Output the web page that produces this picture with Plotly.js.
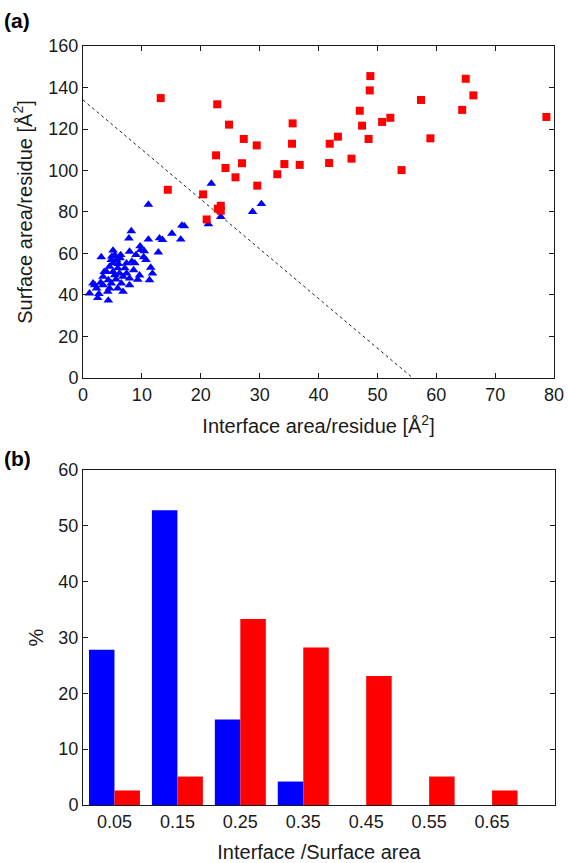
<!DOCTYPE html>
<html>
<head>
<meta charset="utf-8">
<script src="https://cdn.plot.ly/plotly-3.0.1.min.js"></script>
<style>
  html, body { margin: 0; padding: 0; background: #fff; }
  #chart { width: 568px; height: 863px; }
</style>
</head>
<body>
<div id="chart"></div>
<script>
// Panel (a): per-residue interface area vs surface area
// Red squares: group with large interface area
const redX = [13.2, 14.4, 22.8, 24.8, 27.3, 29.5, 35.6, 35.5, 22.6, 24.2,
              27.0, 25.9, 29.6, 34.2, 33.0, 36.8, 20.4, 23.4, 23.4, 22.9,
              21.0, 41.9, 43.3, 41.8, 45.6, 47.0, 48.8, 48.7, 47.4, 48.5,
              50.8, 52.2, 54.1, 57.4, 59.0, 65.0, 66.3, 64.4, 78.7];
const redY = [134.9, 90.7, 131.9, 122.1, 115.2, 112.1, 122.7, 112.9, 107.3, 101.2,
              103.5, 96.7, 92.7, 103.1, 98.2, 102.7, 88.5, 83.0, 80.6, 81.6,
              76.4, 112.9, 116.3, 103.6, 105.7, 128.8, 145.5, 138.6, 121.6, 115.2,
              123.4, 125.4, 100.2, 134.0, 115.5, 144.2, 136.2, 129.2, 125.8];

// Blue triangles: group with small interface area
const blueX = [8.2, 7.8, 9.7, 9.8, 3.1, 5.1, 5.4, 6.4, 7.9, 9.0,
               10.4, 10.3, 10.7, 8.3, 7.4, 8.8, 4.8, 5.7, 5.1, 4.5,
               5.9, 7.1, 11.5, 4.0, 5.1, 6.2, 7.4, 11.8, 3.4, 5.4,
               6.8, 7.9, 9.3, 11.3, 1.7, 3.4, 4.8, 6.5, 7.9, 2.3,
               4.5, 5.9, 1.1, 2.7, 4.2, 6.8, 2.5, 4.3, 2.0, 3.6,
               4.3, 6.0, 5.6, 8.6, 3.0, 6.3, 9.6, 4.9,
               11.1, 16.8, 17.2, 15.1, 16.6, 13.0, 13.5, 11.1, 12.8, 21.8,
               23.4, 21.3, 28.8, 30.3];
const blueY = [70.8, 67.3, 63.5, 61.7, 58.3, 61.5, 59.3, 59.3, 60.9, 59.3,
               61.2, 58.3, 56.9, 56.1, 55.3, 55.3, 56.9, 56.9, 55.3, 53.7,
               52.9, 52.9, 53.2, 51.2, 51.2, 50.4, 50.4, 50.4, 48.8, 49.6,
               48.8, 48.0, 47.4, 47.2, 45.6, 44.8, 45.6, 45.6, 44.8, 43.2,
               43.2, 43.2, 40.8, 40.5, 41.6, 41.6, 38.6, 37.4, 44.8, 51.2,
               47.2, 55.0, 47.5, 52.0, 46.0, 57.8, 49.5, 58.6,
               83.6, 73.5, 73.2, 69.6, 66.8, 67.4, 66.6, 66.8, 60.6, 93.7,
               77.7, 74.2, 80.1, 83.9];

// Dividing line between the two groups
const divX = [0, 56];
const divY = [134, 0];

// Panel (b): distribution of interface/surface area ratio (%)
const binCenters = [0.05, 0.15, 0.25, 0.35, 0.45, 0.55, 0.65];
const binLabels = ['0.05', '0.15', '0.25', '0.35', '0.45', '0.55', '0.65'];
const bluePct = [27.8, 52.8, 15.3, 4.2, 0, 0, 0];
const redPct = [2.6, 5.1, 33.3, 28.2, 23.1, 5.1, 2.6];

const FONT = 'Liberation Sans, Arial, Helvetica, sans-serif';
const INK = '#1a1a1a';
const TICK = 18;
const TITLE = 20;

const frame = {
  showline: true, linecolor: INK, linewidth: 1, mirror: 'ticks',
  ticks: 'inside', ticklen: 5, tickwidth: 1, tickcolor: INK,
  showgrid: false, zeroline: false,
  tickfont: { family: FONT, size: TICK, color: INK }
};

const traces = [
  {
    x: divX, y: divY, xaxis: 'x', yaxis: 'y', type: 'scatter', mode: 'lines',
    line: { color: '#222', width: 1, dash: 'dot' }, hoverinfo: 'skip'
  },
  {
    x: blueX, y: blueY, xaxis: 'x', yaxis: 'y', type: 'scatter', mode: 'markers',
    marker: { symbol: 'triangle-up', size: 8.5, color: '#0000ff', line: { width: 0 } }
  },
  {
    x: redX, y: redY, xaxis: 'x', yaxis: 'y', type: 'scatter', mode: 'markers',
    marker: { symbol: 'square', size: 8, color: '#ff0000', line: { width: 0 } }
  },
  {
    x: binCenters, y: bluePct, xaxis: 'x2', yaxis: 'y2', type: 'bar',
    marker: { color: '#0000ff', line: { width: 0 } }
  },
  {
    x: binCenters, y: redPct, xaxis: 'x2', yaxis: 'y2', type: 'bar',
    marker: { color: '#ff0000', line: { width: 0 } }
  }
];

const layout = {
  width: 568, height: 863,
  margin: { l: 83, r: 13, t: 46, b: 58 },
  paper_bgcolor: '#fff', plot_bgcolor: '#fff',
  showlegend: false,
  barmode: 'group', bargap: 0.19, bargroupgap: 0,
  font: { family: FONT, size: TICK, color: INK },
  xaxis: Object.assign({}, frame, {
    domain: [0, 0.998], anchor: 'y', range: [0, 80],
    tickvals: [0, 10, 20, 30, 40, 50, 60, 70, 80],
    title: { text: 'Interface area/residue [Å<sup>2</sup>]', font: { family: FONT, size: TITLE, color: INK }, standoff: 15 }
  }),
  yaxis: Object.assign({}, frame, {
    domain: [0.5626, 1], anchor: 'x', range: [0, 160],
    tickvals: [0, 20, 40, 60, 80, 100, 120, 140, 160],
    title: { text: 'Surface area/residue [Å<sup>2</sup>]', font: { family: FONT, size: TITLE, color: INK }, standoff: 10 }
  }),
  xaxis2: Object.assign({}, frame, {
    domain: [0, 1], anchor: 'y2', range: [0, 0.75],
    tickvals: binCenters, ticktext: binLabels, ticks: '',
    title: { text: 'Interface /Surface area', font: { family: FONT, size: TITLE, color: INK }, standoff: 20 }
  }),
  yaxis2: Object.assign({}, frame, {
    domain: [0, 0.4414], anchor: 'x2', range: [0, 60],
    tickvals: [0, 10, 20, 30, 40, 50, 60],
    title: { text: '%', font: { family: FONT, size: TITLE, color: INK }, standoff: 9 }
  }),
  annotations: [
    { text: '<b>(a)</b>', xref: 'paper', yref: 'paper', x: -0.172, y: 1.034,
      xanchor: 'left', yanchor: 'middle', showarrow: false,
      font: { family: FONT, size: 21, color: '#000' } },
    { text: '<b>(b)</b>', xref: 'paper', yref: 'paper', x: -0.172, y: 0.457,
      xanchor: 'left', yanchor: 'middle', showarrow: false,
      font: { family: FONT, size: 21, color: '#000' } }
  ]
};

Plotly.newPlot('chart', traces, layout, { staticPlot: true, displayModeBar: false });
</script>
</body>
</html>
